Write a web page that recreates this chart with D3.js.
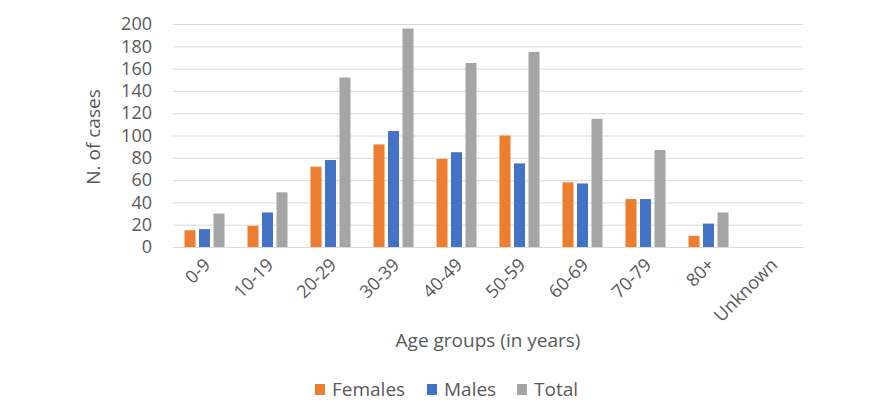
<!DOCTYPE html>
<html>
<head>
<meta charset="utf-8">
<script src="https://cdn.jsdelivr.net/npm/d3@7"></script>
<style>
  html, body { margin: 0; padding: 0; background: #fff; }
  svg { display: block; }
  text { font-family: "Open Sans", sans-serif; fill: #595959; }
</style>
</head>
<body>
<svg id="chart" width="894" height="414"></svg>
<script>
const categories = ["0-9", "10-19", "20-29", "30-39", "40-49", "50-59", "60-69", "70-79", "80+", "Unknown"];
const seriesNames = ["Females", "Males", "Total"];
const females = [15, 19, 72, 92, 79, 100, 58, 43, 10, 0];
const males   = [16, 31, 78, 104, 85, 75, 57, 43, 21, 0];
const total   = [30, 49, 152, 196, 165, 175, 115, 87, 31, 0];
const yTicks  = [0, 20, 40, 60, 80, 100, 120, 140, 160, 180, 200];
const colors  = ["#ED7D31", "#4472C4", "#A5A5A5"];

const seriesValues = [females, males, total];
const svg = d3.select("#chart");
const m = { left: 173, right: 91, top: 24, bottom: 167 };
const W = 894, H = 414;
const innerW = W - m.left - m.right, innerH = H - m.top - m.bottom;

const x0 = d3.scaleBand().domain(categories).range([m.left, m.left + innerW]).paddingInner(0.365).paddingOuter(0.1825);
const x1 = d3.scaleBand().domain(seriesNames).range([0, x0.bandwidth()]).paddingInner(0.24);
const y = d3.scaleLinear().domain([0, 200]).range([m.top + innerH, m.top]);

// gridlines
const yAxis = d3.axisLeft(y).tickValues(yTicks).tickSize(-innerW).tickPadding(21).tickFormat(d3.format("d"));
const gy = svg.append("g").attr("transform", `translate(${m.left},0)`).call(yAxis);
gy.select(".domain").remove();
gy.selectAll(".tick line").attr("stroke", "#D9D9D9").attr("stroke-width", 1);
gy.selectAll(".tick text").style("font-size", "18px").attr("fill", "#595959");

// bars
const groups = svg.append("g").selectAll("g").data(categories).join("g")
  .attr("transform", d => `translate(${x0(d)},0)`);
groups.selectAll("rect")
  .data((d, i) => seriesNames.map((s, k) => ({ s, v: seriesValues[k][i], k })))
  .join("rect")
  .attr("x", d => x1(d.s))
  .attr("width", x1.bandwidth())
  .attr("y", d => y(d.v))
  .attr("height", d => y(0) - y(d.v))
  .attr("fill", d => colors[d.k]);

// x axis
const xAxis = d3.axisBottom(x0).tickSize(0).tickPadding(0);
const gx = svg.append("g").attr("transform", `translate(0,${y(0)})`).call(xAxis);
gx.select(".domain").attr("stroke", "#D9D9D9");
gx.selectAll(".tick text")
  .style("font-size", "18px")
  .attr("fill", "#595959")
  .attr("text-anchor", "end")
  .attr("dy", null)
  .attr("transform", "translate(7,19) rotate(-45)");

// axis titles
svg.append("text").attr("x", 488).attr("y", 347)
  .attr("text-anchor", "middle").style("font-size", "19px").text("Age groups (in years)");
svg.append("text").attr("transform", "translate(100,137) rotate(-90)")
  .attr("text-anchor", "middle").style("font-size", "19px").text("N. of cases");

// legend
const legendX = [315, 427, 517];
const lg = svg.append("g").selectAll("g").data(seriesNames).join("g")
  .attr("transform", (d, i) => `translate(${legendX[i]},384)`);
lg.append("rect").attr("width", 10).attr("height", 11).attr("fill", (d, i) => colors[i]);
lg.append("text").attr("x", 17).attr("y", 12).style("font-size", "19px").text(d => d);
</script>
</body>
</html>
